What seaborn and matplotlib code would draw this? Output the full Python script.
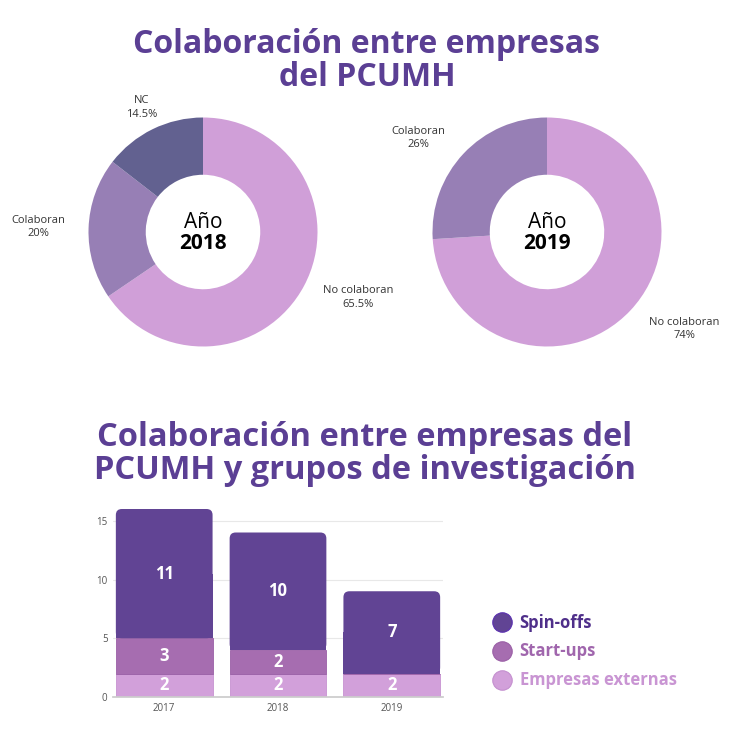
import matplotlib
matplotlib.use("Agg")
import matplotlib.pyplot as plt
import seaborn as sns
import numpy as np
import pandas as pd
from matplotlib.lines import Line2D
from matplotlib.patches import FancyBboxPatch, Rectangle

# ---------------- data ----------------
pie_2018_labels = ["No colaboran", "Colaboran", "NC"]
pie_2018_values = [65.5, 20, 14.5]
pie_2019_labels = ["No colaboran", "Colaboran"]
pie_2019_values = [74, 26]

years = ["2017", "2018", "2019"]
empresas_externas = [2, 2, 2]
start_ups = [3, 2, 0]
spin_offs = [11, 10, 7]
series_names = ["Spin-offs", "Start-ups", "Empresas externas"]

# ---------------- style ----------------
sns.set_theme(style="white")
plt.rcParams['font.family'] = ['Open Sans', 'DejaVu Sans']

TITLE = "#5b3f94"
C_NOCOL = "#d09fd8"
C_COL = "#977fb5"
C_NC = "#626190"
C_SPIN = "#614494"
C_START = "#a66db0"
C_EMP = "#d2a0da"

W = H = 732
fig = plt.figure(figsize=(7.32, 7.32), dpi=100)

def px_axes(cx, cy, half):
    return fig.add_axes([(cx - half) / W, (H - cy - half) / H, 2 * half / W, 2 * half / H])

fig.text(367 / W, 1 - 61 / H, "Colaboración entre empresas\ndel PCUMH", ha="center", va="center",
         fontsize=23, fontweight="bold", color=TITLE, linespacing=1.0)
fig.text(365 / W, 1 - 454 / H, "Colaboración entre empresas del\nPCUMH y grupos de investigación",
         ha="center", va="center", fontsize=23.5, fontweight="bold", color=TITLE, linespacing=1.02)

R = 114.5
LIM = 1.6
def donut(cx, cy, values, labels, colors, year, dists, angle_adj):
    half = R * LIM
    ax = px_axes(cx, cy, half)
    ax.patch.set_alpha(0)
    wedges, _ = ax.pie(values, colors=colors, startangle=90, counterclock=False,
                       wedgeprops=dict(width=0.5, edgecolor="none"))
    ax.set_xlim(-LIM, LIM)
    ax.set_ylim(-LIM, LIM)
    ax.set_aspect("equal")
    ax.axis("off")
    for w, lab, v, d, adj in zip(wedges, labels, values, dists, angle_adj):
        mid = np.deg2rad((w.theta1 + w.theta2) / 2 + adj)
        vs = f"{v:g}%"
        ax.text(d * np.cos(mid), d * np.sin(mid), f"{lab}\n{vs}", ha="center", va="center",
                fontsize=8, color="#333333", linespacing=1.3, clip_on=False)
    ax.text(0, 0.08, "Año", ha="center", va="center", fontsize=15, color="black")
    ax.text(0, -0.1, year, ha="center", va="center", fontsize=15, fontweight="bold", color="black")

donut(203, 232, pie_2018_values, pie_2018_labels, [C_NOCOL, C_COL, C_NC], "2018",
      [1.47, 1.44, 1.21], [5, 0, 0])
donut(547, 232, pie_2019_values, pie_2019_labels, [C_NOCOL, C_COL], "2019",
      [1.47, 1.39], [8, 7])

# ---------------- bars ----------------
left, right, bottom_px, top_px = 113, 443, 697, 509
axb = fig.add_axes([left / W, (H - bottom_px) / H, (right - left) / W, (bottom_px - top_px) / H])
df = pd.DataFrame({"year": years, "emp": empresas_externas, "start": start_ups, "spin": spin_offs})
bottom2 = [a + b for a, b in zip(empresas_externas, start_ups)]
sns.barplot(data=df, x="year", y="emp", color=C_EMP, width=0.85, ax=axb, saturation=1,
            edgecolor="#c793d1", linewidth=0.6)
sns.barplot(data=df, x="year", y="start", color=C_START, width=0.85, ax=axb, saturation=1,
            bottom=empresas_externas, edgecolor="#9a5fa6", linewidth=0.6)
sns.barplot(data=df, x="year", y="spin", color=C_SPIN, width=0.85, ax=axb, saturation=1,
            bottom=bottom2, linewidth=0)
axb.set_xlim(-0.45, 2.45)
axb.set_ylim(0, 16)

# rounded top corners on the top segment (derived from the seaborn bars)
px_per_x = (right - left) / 2.9
px_per_y = (bottom_px - top_px) / 16
rad_px = 6
aspect = px_per_x / px_per_y
for rect in axb.containers[2].patches:
    x0, y0 = rect.get_x(), rect.get_y()
    w, h = rect.get_width(), rect.get_height()
    z = rect.get_zorder()
    axb.add_patch(FancyBboxPatch((x0, y0), w, h,
                                 boxstyle=f"round,pad=0,rounding_size={rad_px / px_per_x}",
                                 mutation_aspect=aspect, facecolor=C_SPIN, edgecolor="none",
                                 linewidth=0, zorder=z))
    axb.add_patch(Rectangle((x0, y0), w, h / 2, facecolor=C_SPIN, edgecolor="none",
                            linewidth=0, zorder=z))
    rect.set_visible(False)

for cont, vals in zip(axb.containers, [empresas_externas, start_ups, spin_offs]):
    axb.bar_label(cont, labels=[str(v) if v > 0 else "" for v in vals], label_type="center",
                  color="white", fontsize=12, fontweight="bold", zorder=6)

axb.set_yticks([0, 5, 10, 15])
axb.yaxis.grid(True, color="#e8e8e8", linewidth=0.8)
axb.set_axisbelow(True)
for s in ["top", "right", "left"]:
    axb.spines[s].set_visible(False)
axb.spines["bottom"].set_color("#cccccc")
axb.set_xlabel("")
axb.set_ylabel("")
axb.tick_params(axis="both", labelsize=7, colors="#555555", length=0, pad=4)
axb.patch.set_alpha(0)

handles = [Line2D([0], [0], marker="o", linestyle="none", markersize=14,
                  markerfacecolor=c, markeredgecolor=e, markeredgewidth=0.8)
           for c, e in zip([C_SPIN, C_START, C_EMP], ["#5a2fb0", "#9a5fa6", "#c48fcf"])]
leg = fig.legend(handles, series_names, loc="upper left", bbox_to_anchor=(487 / W, 1 - 607 / H),
                 frameon=False, handletextpad=0.55, labelspacing=0.65, borderaxespad=0,
                 prop=dict(size=12, weight="bold"), handlelength=1.0)
for t, c in zip(leg.get_texts(), ["#4f2f8a", "#a066ad", "#c995d3"]):
    t.set_color(c)

fig.savefig("out.png", dpi=100)
